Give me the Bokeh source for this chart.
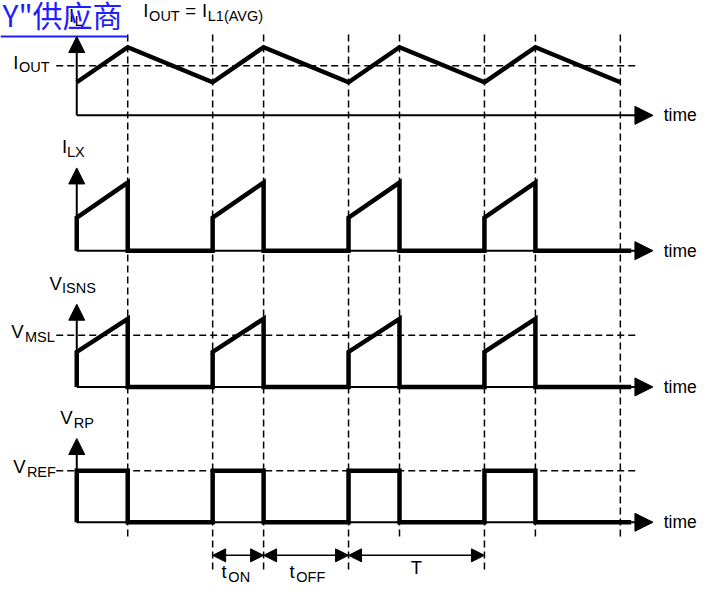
from bokeh.plotting import figure
from bokeh.models import Range1d, Arrow, NormalHead
from bokeh.core.properties import value
from bokeh.embed import file_html
from bokeh.resources import INLINE

# ---------------- data (time in periods, signal levels in normalised units) ----------------
period = 1.0
duty = 0.375            # t_ON / T
n_cycles = 4
t_axis_tip = 4.24       # tip of the time-axis arrows
t_wave_end = 4.08       # waveforms stop at the arrow head

iout_levels = [0.34, 0.70]      # valley, peak of I_OUT
iout_avg = 0.51                 # I_OUT = I_L1(AVG)
ilx_levels = [0.34, 0.70]       # I_LX ramp start / end
visns_levels = [0.36, 0.70]     # V_ISNS ramp start / end
v_msl = 0.53
v_ref = 0.53
axis_heights = [0.81, 0.85, 0.85, 0.86]

top_main = ["I", "I", "V", "V"]
top_sub = ["L", "LX", "ISNS", "RP"]
side_main = ["I", "V", "V"]
side_sub = ["OUT", "MSL", "REF"]
dim_labels = [("t", "ON"), ("t", "OFF"), ("T", "")]
time_label = "time"
watermark = "Y\"供应商"

# ---------------- layout (reference pixels) ----------------
REF_W, REF_H = 716, 602
X0, XPX = 78.0, 139.0                 # ref px of t=0, ref px per period
panel_base = [REF_H - 118, REF_H - 257, REF_H - 397, REF_H - 536]
AMP = 100.0
FONT = value("Liberation Sans")
MAIN = "18.5px"
SUB = "14.5px"


def tx(xref):
    return (xref - X0) / XPX


def dx(d):
    return d / XPX


p = figure(width=700, height=586, output_backend="svg", toolbar_location=None,
           x_range=Range1d(tx(0), tx(REF_W)), y_range=Range1d(0, REF_H),
           x_axis_type=None, y_axis_type=None, min_border=0,
           outline_line_color=None, background_fill_color="white")
p.grid.visible = False

rises = [k * period for k in range(n_cycles)]
falls = [k * period + duty * period for k in range(n_cycles)]

# ---------------- dashed vertical guide lines ----------------
dim_spans = [(rises[1], falls[1]), (falls[1], rises[2]), (rises[2], rises[3])]
long_set = set()
for a, b in dim_spans:
    long_set.add(round(a, 6)); long_set.add(round(b, 6))
guides = sorted(set([round(v, 6) for v in rises[1:] + falls + [n_cycles * period]]))
g_top = REF_H - 35
g_bot = [REF_H - 588 if g in long_set else REF_H - 552 for g in guides]
p.segment(x0=guides, x1=guides, y0=[g_top] * len(guides), y1=g_bot,
          line_color="black", line_width=1.5, line_dash="7 4")

# ---------------- horizontal dashed reference levels ----------------
hx0, hx1 = tx(57), tx(652)
ref_levels = [(0, iout_avg), (2, v_msl), (3, v_ref)]
hy = [panel_base[i] + AMP * lv for i, lv in ref_levels]
p.segment(x0=[hx0] * 3, x1=[hx1] * 3, y0=hy, y1=hy,
          line_color="black", line_width=1.5, line_dash="7 4")

# ---------------- axes ----------------
for i, base in enumerate(panel_base):
    p.add_layout(Arrow(x_start=0, y_start=base, x_end=t_axis_tip, y_end=base,
                       line_width=2, line_color="black",
                       end=NormalHead(size=18, fill_color="black", line_color="black")))
    p.add_layout(Arrow(x_start=0, y_start=base, x_end=0, y_end=base + AMP * axis_heights[i],
                       line_width=2, line_color="black",
                       end=NormalHead(size=16, fill_color="black", line_color="black")))
    p.text(x=[t_axis_tip + dx(11)], y=[base], text=[time_label], text_font=FONT,
           text_font_size="17.5px", text_baseline="middle", text_color="black")

# ---------------- waveforms ----------------
# I_OUT triangle
iout_t, iout_v = [], []
for k in range(n_cycles):
    iout_t += [rises[k], falls[k]]
    iout_v += [iout_levels[0], iout_levels[1]]
iout_t.append(n_cycles * period)
iout_v.append(iout_levels[0])
p.line(iout_t, [panel_base[0] + AMP * v for v in iout_v], line_width=4.5,
       line_color="black", line_join="miter")


def pulse_wave(lo_hi, base):
    ts, vs = [], []
    for k in range(n_cycles):
        ts += [rises[k], rises[k], falls[k], falls[k]]
        vs += [0, lo_hi[0], lo_hi[1], 0]
    ts.append(t_wave_end)
    vs.append(0)
    return ts, [base + AMP * v for v in vs]


for lv, base in [(ilx_levels, panel_base[1]), (visns_levels, panel_base[2]),
                 ([v_ref, v_ref], panel_base[3])]:
    ts, ys = pulse_wave(lv, base)
    p.line(ts, ys, line_width=4.5, line_color="black", line_join="miter")

# ---------------- dimension arrows ----------------
dim_y = REF_H - 570
for a, b in dim_spans:
    p.add_layout(Arrow(x_start=a, y_start=dim_y, x_end=b, y_end=dim_y,
                       line_width=1.5, line_color="black",
                       start=NormalHead(size=13, fill_color="black", line_color="black"),
                       end=NormalHead(size=13, fill_color="black", line_color="black")))
for (a, b), (m, s) in zip(dim_spans, dim_labels):
    c = (a + b) / 2
    if s:
        p.text(x=[c + dx(-17)], y=[REF_H - 597], text=[m], text_font=FONT,
               text_font_size=MAIN, text_color="black")
        p.text(x=[c + dx(-10)], y=[REF_H - 600], text=[s], text_font=FONT,
               text_font_size=SUB, text_color="black")
    else:
        p.text(x=[c], y=[REF_H - 593], text=[m], text_font=FONT,
               text_font_size=MAIN, text_align="center", text_color="black")

# ---------------- axis labels (above arrows) ----------------
top_dx_main = [-8, -15, -28, -17]
top_dx_sub = [-2, -10, -15, -3]
for i in range(4):
    tip = panel_base[i] + AMP * axis_heights[i]
    p.text(x=[dx(top_dx_main[i])], y=[tip + 11], text=[top_main[i]], text_font=FONT,
           text_font_size=MAIN, text_color="black")
    p.text(x=[dx(top_dx_sub[i])], y=[tip + 8], text=[top_sub[i]], text_font=FONT,
           text_font_size=SUB, text_color="black")

# ---------------- level labels (left of dashed lines) ----------------
side_dx_main = [-65, -67, -65]
side_dx_sub = [-59, -53, -51]
for j, (i, lv) in enumerate(ref_levels):
    yl = panel_base[i] + AMP * lv
    p.text(x=[dx(side_dx_main[j])], y=[yl - 7], text=[side_main[j]], text_font=FONT,
           text_font_size=MAIN, text_color="black")
    p.text(x=[dx(side_dx_sub[j])], y=[yl - 10], text=[side_sub[j]], text_font=FONT,
           text_font_size=SUB, text_color="black")

# ---------------- formula at top ----------------
p.text(x=[tx(146), tx(189), tx(206)], y=[REF_H - 21] * 3, text=["I", "=", "I"],
       text_font=FONT, text_font_size=MAIN, text_color="black")
p.text(x=[tx(152), tx(212)], y=[REF_H - 24] * 2, text=["OUT", "L1(AVG)"],
       text_font=FONT, text_font_size=SUB, text_color="black")

# ---------------- watermark ----------------
p.text(x=[tx(2)], y=[REF_H - 36], text=[watermark], text_font=value("Noto Sans CJK SC"),
       text_font_size="30px", text_color="#1e1eff")
p.line([tx(0), falls[0]], [REF_H - 37] * 2, line_color="#1e1eff", line_width=2)

open("out.html", "w").write(file_html(p, INLINE))
